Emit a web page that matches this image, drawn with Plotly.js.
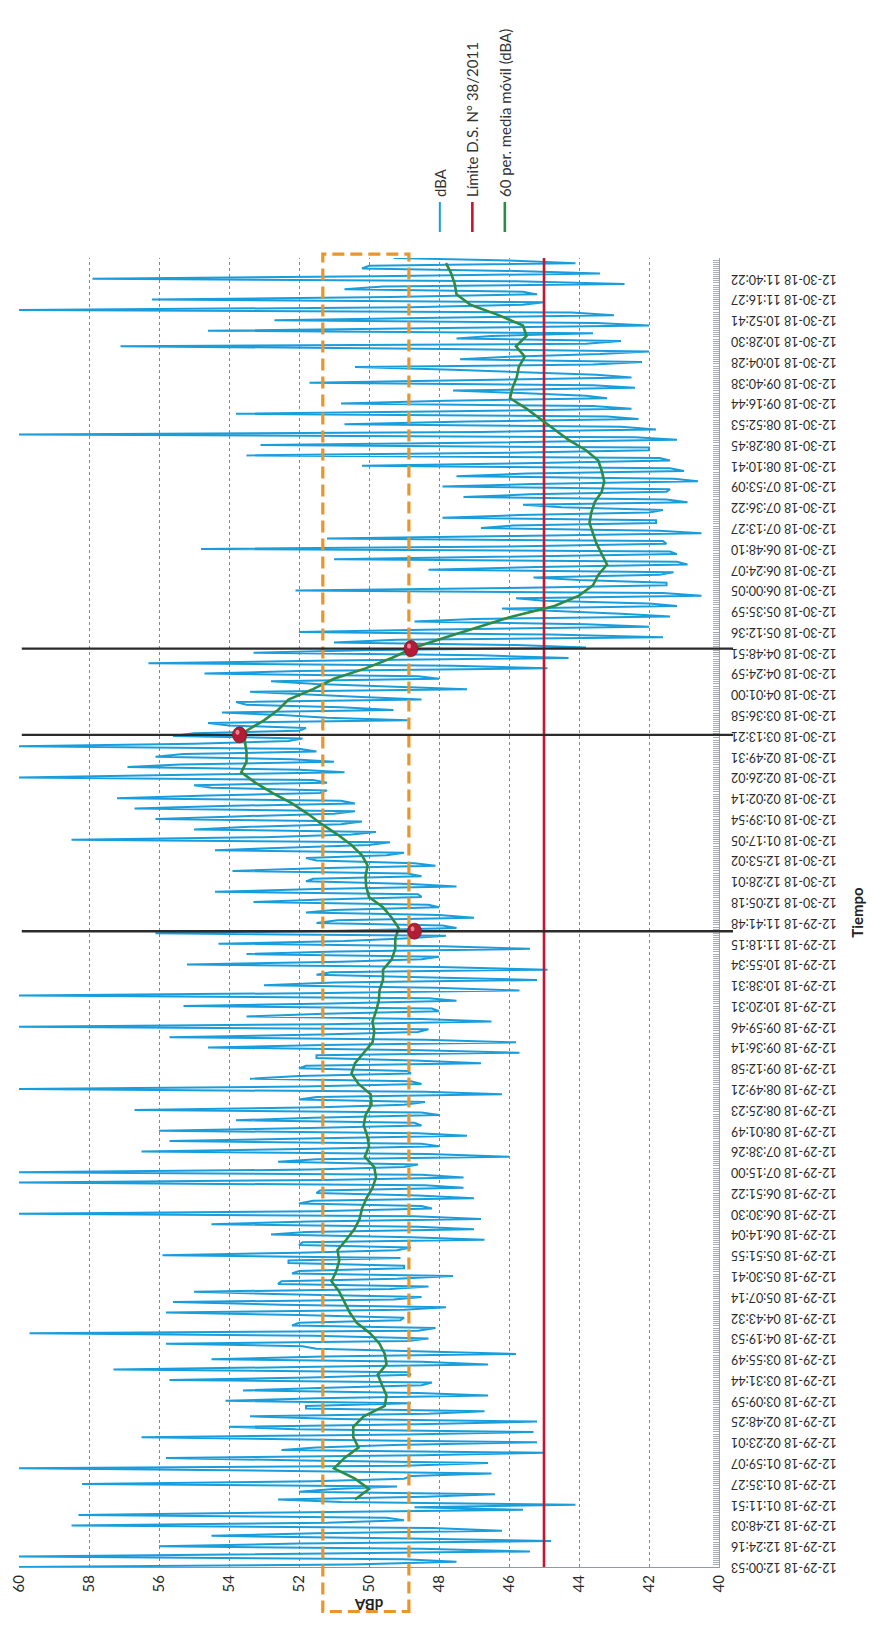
<!DOCTYPE html>
<html>
<head>
<meta charset="utf-8">
<script src="https://cdn.plot.ly/plotly-3.0.1.min.js"></script>
<style>
  html, body { margin: 0; padding: 0; background: #ffffff; width: 879px; height: 1631px; overflow: hidden; }
  #chart { position: absolute; left: 0; top: 0; width: 1631px; height: 879px; transform-origin: 0 0; }
</style>
</head>
<body>
<div id="chart"></div>
<script>
// ---------- DATA ----------
const etiquetasTiempo = [
  "12-29-18 12:00:53","12-29-18 12:24:16","12-29-18 12:48:03","12-29-18 01:11:51","12-29-18 01:35:27",
  "12-29-18 01:59:07","12-29-18 02:23:01","12-29-18 02:48:25","12-29-18 03:09:59","12-29-18 03:31:44",
  "12-29-18 03:55:49","12-29-18 04:19:53","12-29-18 04:43:32","12-29-18 05:07:14","12-29-18 05:30:41",
  "12-29-18 05:51:55","12-29-18 06:14:04","12-29-18 06:30:30","12-29-18 06:51:22","12-29-18 07:15:00",
  "12-29-18 07:38:26","12-29-18 08:01:49","12-29-18 08:25:23","12-29-18 08:49:21","12-29-18 09:12:58",
  "12-29-18 09:36:14","12-29-18 09:59:46","12-29-18 10:20:31","12-29-18 10:38:31","12-29-18 10:55:34",
  "12-29-18 11:18:15","12-29-18 11:41:48","12-30-18 12:05:18","12-30-18 12:28:01","12-30-18 12:53:02",
  "12-30-18 01:17:05","12-30-18 01:39:54","12-30-18 02:02:14","12-30-18 02:26:02","12-30-18 02:49:31",
  "12-30-18 03:13:21","12-30-18 03:36:58","12-30-18 04:01:00","12-30-18 04:24:59","12-30-18 04:48:51",
  "12-30-18 05:12:36","12-30-18 05:35:59","12-30-18 06:00:05","12-30-18 06:24:07","12-30-18 06:48:10",
  "12-30-18 07:13:27","12-30-18 07:36:22","12-30-18 07:53:09","12-30-18 08:10:41","12-30-18 08:28:45",
  "12-30-18 08:52:53","12-30-18 09:16:44","12-30-18 09:40:38","12-30-18 10:04:28","12-30-18 10:28:30",
  "12-30-18 10:52:41","12-30-18 11:16:27","12-30-18 11:40:22"
];

// dBA readings: peaks/dips read on a quarter-interval grid (4 per labelled interval) ...
const dbaExtremos = [
  60,47.5,60,45.4,   56.0,44.8,54.5,46.2,   58.5,49.0,58.3,45.6,   44.1,52.6,46.4,51.0,
  58.2,49.0,46.5,60,  46.6,55.8,45.0,51.5,   45.2,56.5,45.3,54.0,   45.2,53.4,46.7,51.8,
  54.1,46.6,53.6,48.5, 55.7,48.8,57.3,46.6,  54.5,45.8,51.5,55.8,   48.3,59.7,48.1,52.0,
  49.0,55.8,47.8,55.6, 48.5,55.0,48.3,52.5,  47.6,52.0,49.0,52.3,   55.9,49.2,52.0,46.7,
  52.8,47.0,54.5,46.8, 60,48.2,52.0,47.0,    51.5,47.3,60,47.3,     60,49.0,52.6,46.0,
  56.5,48.0,55.7,47.2, 56.0,48.5,53.8,48.0,  56.7,49.0,52.0,46.2,   60,48.5,53.4,48.8,
  52.0,46.8,51.5,45.7, 54.6,45.8,55.7,48.6,  60,46.5,53.5,48.0,     55.3,47.5,60,45.7,
  53.0,45.2,51.5,44.9, 55.2,48.5,53.5,45.4,  54.3,49.0,56.1,47.5,   51.5,47.0,51.8,48.0,
  53.3,48.5,54.4,47.5, 51.8,48.5,53.9,48.1,  51.5,49.5,54.4,50.0,   58.5,50.5,55.0,50.8,
  56.1,51.0,56.7,50.4, 57.2,51.4,54.5,51.2,  60,50.7,56.9,51.0,     56.1,51.5,60,52.3,
  55.6,52.0,54.0,48.9, 52.5,49.3,53.5,48.5,  52.0,47.2,51.5,48.0,   54.7,44.9,56.3,44.3,
  53.3,43.8,51.0,41.6, 52.0,42.0,48.7,41.4,  44.5,41.2,45.0,40.5,   52.1,41.5,44.0,41.7,
  48.3,40.9,51.0,41.2, 54.8,41.5,51.2,40.5,  46.8,41.8,47.9,42.0,   44.5,40.9,47.3,41.5,
  47.9,40.6,47.5,41.0, 50.2,41.4,53.5,42.0,  53.1,41.2,60,41.8,     50.7,42.3,53.8,42.5,
  50.8,43.2,46.0,42.4, 51.7,42.5,45.5,50.4,  42.2,46.0,42.0,57.1,   42.8,46.5,54.6,42.0,
  52.7,43.0,60,45.6,   56.2,45.2,50.7,42.7,  57.9,43.4,50.2,44.1,
  49.3
];
// ... and the dense core readings that sit between them (one after each of the above)
const dbaNucleo = [
  50.5,49.0,51.8,48.5, 52.0,48.8,51.5,48.2, 51.2,49.5,52.4,48.7, 50.8,48.4,52.0,49.2,
  51.6,48.8,52.2,49.0, 51.9,48.5,52.5,49.3, 51.4,48.9,52.1,48.6, 50.9,48.3,51.8,48.8,
  51.5,48.6,51.2,48.2, 51.7,48.9,52.0,48.5, 51.3,48.4,51.9,48.9, 51.6,48.6,52.2,49.1,
  52.0,49.0,52.5,49.3, 52.4,49.4,52.6,49.2, 52.2,49.0,52.3,49.1, 52.0,48.8,51.9,48.8,
  51.8,48.6,51.7,48.7, 51.5,48.5,51.6,48.6, 51.4,48.4,51.3,48.5, 51.6,48.6,51.5,48.3,
  51.5,48.5,51.8,48.6, 51.7,48.7,51.6,48.5, 51.4,48.4,51.5,48.4, 51.9,48.8,52.0,48.9,
  51.8,48.7,51.5,48.5, 51.3,48.4,51.4,48.3, 51.2,48.5,51.3,48.2, 51.1,48.3,51.2,48.1,
  51.0,48.2,51.1,48.0, 50.8,48.0,50.9,47.9, 50.7,47.8,50.8,47.9, 50.9,48.0,51.0,48.3,
  51.3,48.6,51.5,48.8, 51.6,48.9,51.5,48.7, 51.8,49.0,52.2,49.4, 53.0,49.8,53.4,50.2,
  53.8,50.4,54.2,50.8, 54.6,51.2,55.0,51.6, 55.2,52.0,55.4,52.2, 55.3,52.0,55.0,51.9,
  55.0,51.8,54.6,51.2, 54.2,50.8,53.8,50.2, 53.4,49.4,52.8,48.6, 52.0,47.6,51.0,46.8,
  50.2,45.8,49.2,44.8, 48.0,43.8,47.0,42.8, 46.2,42.0,45.8,41.6, 45.5,41.5,45.3,41.3,
  45.2,41.2,45.4,41.4, 45.6,41.6,45.8,41.7, 45.9,41.8,45.7,41.6, 45.6,41.5,45.4,41.4,
  45.3,41.3,45.5,41.4, 45.6,41.7,46.0,42.0, 46.4,42.4,46.8,42.8, 47.2,43.2,47.6,43.6,
  47.8,43.8,47.6,43.6, 47.5,43.5,47.6,43.6, 47.4,43.4,47.8,43.8, 47.5,43.6,47.4,43.5,
  48.0,44.2,48.8,45.0, 49.4,45.6,49.6,45.8, 49.8,45.8,50.0,46.0
];
const muestrasPorEtiqueta = 8;

// 60-period moving average, read every half labelled interval
const mediaMovilInicio = 3.25;
const mediaMovilPaso = 0.5;
const mediaMovilValores = [
  50.4,50.0,50.4,51.0,50.7,50.3,50.45,50.45,50.15,49.55,
  49.5,49.63,49.75,49.5,49.55,49.7,49.97,50.35,50.55,50.7,
  50.85,51.07,50.93,50.85,50.9,50.65,50.42,50.27,50.2,50.07,
  49.9,49.8,49.85,50.12,50.0,50.05,50.15,50.1,49.93,49.95,
  50.3,50.5,50.4,50.15,49.9,49.85,49.9,49.8,49.72,49.7,
  49.6,49.6,49.35,49.25,49.25,49.15,49.35,49.6,50.0,50.08,
  50.1,50.04,50.2,50.5,50.9,51.35,51.75,52.2,52.75,53.25,
  53.65,53.5,53.5,53.55,53.5,53.0,52.6,52.3,51.6,51.0,
  50.1,49.35,48.7,47.8,46.85,45.9,44.7,44.0,43.6,43.45,
  43.2,43.35,43.5,43.6,43.7,43.65,43.55,43.35,43.28,43.35,
  43.45,43.8,44.3,44.7,45.1,45.5,45.97,45.9,45.78,45.72,
  45.55,45.8,45.5,45.6,46.3,47.1,47.5,47.55,47.65,47.8
];

const limiteDS = 45;
const rangoDBA = [40, 60];

// highlighted instants (vertical markers) and their moving-average values
const marcasX = [30.6, 40.05, 44.2];
const marcasY = [48.7, 53.7, 48.8];

// dashed reference band
const bandaMin = 48.86;
const bandaMax = 51.32;

// ---------- BUILD ----------
const dbaSerie = [];
dbaExtremos.forEach(function (v, k) {
  dbaSerie.push(v);
  if (k < dbaNucleo.length) dbaSerie.push(dbaNucleo[k]);
});
const xDBA = dbaSerie.map((v, k) => k / muestrasPorEtiqueta);
const xMedia = mediaMovilValores.map((v, k) => mediaMovilInicio + k * mediaMovilPaso);
const xFin = etiquetasTiempo.length;
const tickPos = etiquetasTiempo.map((t, k) => k);

const FONT = 'Lato, "Open Sans", sans-serif';

const traces = [
  { x: xDBA, y: dbaSerie, type: 'scatter', mode: 'lines', name: 'dBA',
    line: { color: '#1A9DDB', width: 2.0 }, legendgroup: 'a', hoverinfo: 'skip' },
  { x: [0, xFin], y: [limiteDS, limiteDS], type: 'scatter', mode: 'lines',
    name: 'Límite D.S. N° 38/2011', line: { color: '#C8152F', width: 2.6 }, legendgroup: 'b', hoverinfo: 'skip' },
  { x: xMedia, y: mediaMovilValores, type: 'scatter', mode: 'lines',
    name: '60 per. media móvil (dBA)', line: { color: '#2E8A45', width: 2.6 }, legendgroup: 'c', hoverinfo: 'skip' }
];

const shapes = [];
// dashed orange band
shapes.push({ type: 'rect', xref: 'paper', yref: 'y', x0: -0.034, x1: 1.003, y0: bandaMin, y1: bandaMax,
  line: { color: '#E8952B', width: 3.2, dash: '12px,6px' }, fillcolor: 'rgba(0,0,0,0)', layer: 'above' });
// vertical black lines
marcasX.forEach(function (mx) {
  shapes.push({ type: 'line', xref: 'x', yref: 'paper', x0: mx, x1: mx, y0: -0.02, y1: 0.996,
    line: { color: '#2b2b2b', width: 2.4 }, layer: 'above' });
});
// red dots
marcasX.forEach(function (mx, k) {
  shapes.push({ type: 'circle', xref: 'x', yref: 'y', xsizemode: 'pixel', ysizemode: 'pixel',
    xanchor: mx, yanchor: marcasY[k], x0: -8, x1: 8, y0: -7, y1: 7,
    fillcolor: '#B01E36', line: { color: '#8e1428', width: 0.8 }, layer: 'above' });
  shapes.push({ type: 'circle', xref: 'x', yref: 'y', xsizemode: 'pixel', ysizemode: 'pixel',
    xanchor: mx, yanchor: marcasY[k], x0: 0, x1: 5, y0: 0, y1: 4,
    fillcolor: 'rgba(240,150,160,0.85)', line: { width: 0 }, layer: 'above' });
});

const layout = {
  width: 1631, height: 879, autosize: false,
  margin: { l: 64, r: 258, t: 19, b: 160 },
  paper_bgcolor: '#ffffff', plot_bgcolor: '#ffffff',
  font: { family: FONT, color: '#2a2a2a' },
  showlegend: true,
  legend: { x: 1.016, xanchor: 'left', y: 0.352, yanchor: 'middle', traceorder: 'grouped',
    tracegroupgap: 10, font: { family: FONT, size: 15, color: '#333' }, bgcolor: 'rgba(0,0,0,0)' },
  xaxis: {
    range: [0, 63], tickmode: 'array', tickvals: tickPos, ticktext: etiquetasTiempo,
    tickangle: -90, tickfont: { family: FONT, size: 12.5, color: '#2a2a2a' },
    showgrid: false, zeroline: false, showline: true, linecolor: '#9aa3ab', linewidth: 1,
    ticks: 'inside', ticklen: 6, tickcolor: '#9aa3ab', ticklabelstandoff: 6,
    minor: { ticks: 'inside', ticklen: 6, tickcolor: '#a7b0b8', tickmode: 'linear', tick0: 0, dtick: 0.1, showgrid: false },
    automargin: false,
    title: { text: 'Tiempo', font: { family: FONT, size: 15, color: '#222', weight: 'bold' }, standoff: 16 }
  },
  yaxis: {
    range: rangoDBA, dtick: 2, tick0: 40,
    tickfont: { family: FONT, size: 15, color: '#2a2a2a' },
    showgrid: true, gridcolor: '#7d8894', gridwidth: 1, griddash: 'dot',
    zeroline: false, showline: true, linecolor: '#8f99a3', linewidth: 1, ticks: '', ticklabelstandoff: 4,
    automargin: false,
    title: { text: 'dBA', font: { family: FONT, size: 15, color: '#222', weight: 'bold' }, standoff: 2 }
  },
  shapes: shapes
};

Plotly.newPlot('chart', traces, layout, { displayModeBar: false, staticPlot: true }).then(function () {
  document.getElementById('chart').style.transform = 'translate(0px, 1631px) rotate(-90deg)';
});
</script>
</body>
</html>
